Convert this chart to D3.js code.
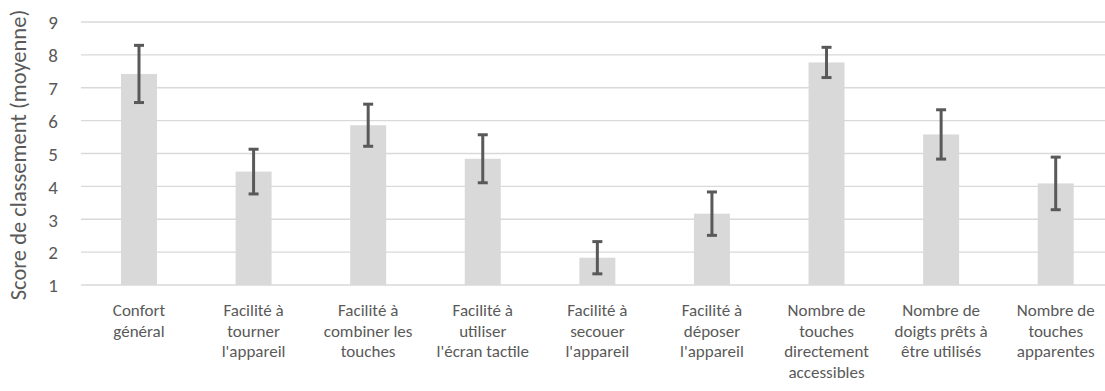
<!DOCTYPE html>
<html>
<head>
<meta charset="utf-8">
<script src="https://cdn.jsdelivr.net/npm/d3@7"></script>
<style>
  html, body { margin: 0; padding: 0; background: #fff; }
  svg { display: block; }
  text { font-family: Carlito, Calibri, Lato, "Liberation Sans", sans-serif; fill: #595959; }
</style>
</head>
<body>
<svg id="chart" width="1105" height="391"></svg>
<script>
const categories = [
  "Confort général",
  "Facilité à tourner l'appareil",
  "Facilité à combiner les touches",
  "Facilité à utiliser l'écran tactile",
  "Facilité à secouer l'appareil",
  "Facilité à déposer l'appareil",
  "Nombre de touches directement accessibles",
  "Nombre de doigts prêts à être utilisés",
  "Nombre de touches apparentes"
];
const categoryLines = [
  ["Confort", "général"],
  ["Facilité à", "tourner", "l'appareil"],
  ["Facilité à", "combiner les", "touches"],
  ["Facilité à", "utiliser", "l'écran tactile"],
  ["Facilité à", "secouer", "l'appareil"],
  ["Facilité à", "déposer", "l'appareil"],
  ["Nombre de", "touches", "directement", "accessibles"],
  ["Nombre de", "doigts prêts à", "être utilisés"],
  ["Nombre de", "touches", "apparentes"]
];
const means  = [7.42, 4.45, 5.86, 4.84, 1.83, 3.17, 7.77, 5.58, 4.09];
const errors = [0.87, 0.68, 0.64, 0.73, 0.49, 0.66, 0.46, 0.75, 0.80];
const yTicks = [1, 2, 3, 4, 5, 6, 7, 8, 9];
const yTitle = "Score de classement (moyenne)";

const svg = d3.select("#chart");
const plotLeft = 81.7, plotRight = 1113, plotTop = 22, plotBottom = 285;
const FONT = "Carlito, Calibri, Lato, 'Liberation Sans', sans-serif";

const x = d3.scaleBand().domain(categories).range([plotLeft, plotRight])
  .paddingInner(0.686).paddingOuter(0.343);
const y = d3.scaleLinear().domain([1, 9]).range([plotBottom, plotTop]);

// gridlines
svg.append("g").selectAll("line").data(yTicks).join("line")
  .attr("x1", 81).attr("x2", 1105)
  .attr("y1", d => y(d)).attr("y2", d => y(d))
  .attr("stroke", "#d9d9d9").attr("stroke-width", 1.3);

// y tick labels
const yAxis = d3.axisLeft(y).tickValues(yTicks).tickSize(0).tickPadding(0);
const gy = svg.append("g").attr("transform", "translate(58,0)").call(yAxis);
gy.select(".domain").remove();
gy.selectAll("text").attr("font-size", 19).attr("fill", "#595959")
  .style("font-family", FONT)
  .attr("dy", "0.36em");

// bars
svg.append("g").selectAll("rect").data(categories).join("rect")
  .attr("x", d => x(d)).attr("width", x.bandwidth())
  .attr("y", (d, i) => y(means[i]))
  .attr("height", (d, i) => y(1) - y(means[i]))
  .attr("fill", "#d9d9d9");

// error bars
const eb = svg.append("g").selectAll("g").data(categories).join("g")
  .attr("stroke", "#595959").attr("stroke-width", 3);
eb.append("line")
  .attr("x1", d => x(d) + x.bandwidth() / 2).attr("x2", d => x(d) + x.bandwidth() / 2)
  .attr("y1", (d, i) => y(means[i] + errors[i])).attr("y2", (d, i) => y(means[i] - errors[i]));
eb.append("line")
  .attr("x1", d => x(d) + x.bandwidth() / 2 - 5).attr("x2", d => x(d) + x.bandwidth() / 2 + 5)
  .attr("y1", (d, i) => y(means[i] + errors[i])).attr("y2", (d, i) => y(means[i] + errors[i]));
eb.append("line")
  .attr("x1", d => x(d) + x.bandwidth() / 2 - 5).attr("x2", d => x(d) + x.bandwidth() / 2 + 5)
  .attr("y1", (d, i) => y(means[i] - errors[i])).attr("y2", (d, i) => y(means[i] - errors[i]));

// category labels
const lab = svg.append("g").selectAll("text").data(categories).join("text")
  .attr("text-anchor", "middle").attr("font-size", 17)
  .attr("x", d => x(d) + x.bandwidth() / 2).attr("y", 316);
lab.selectAll("tspan").data((d, i) => categoryLines[i]).join("tspan")
  .attr("x", function () { return this.parentNode.getAttribute("x"); })
  .attr("dy", (d, j) => j === 0 ? 0 : 20.6)
  .text(d => d);

// y title
svg.append("text").attr("transform", `translate(26,155) rotate(-90)`)
  .attr("text-anchor", "middle").attr("font-size", 22.5).text(yTitle);
</script>
</body>
</html>
